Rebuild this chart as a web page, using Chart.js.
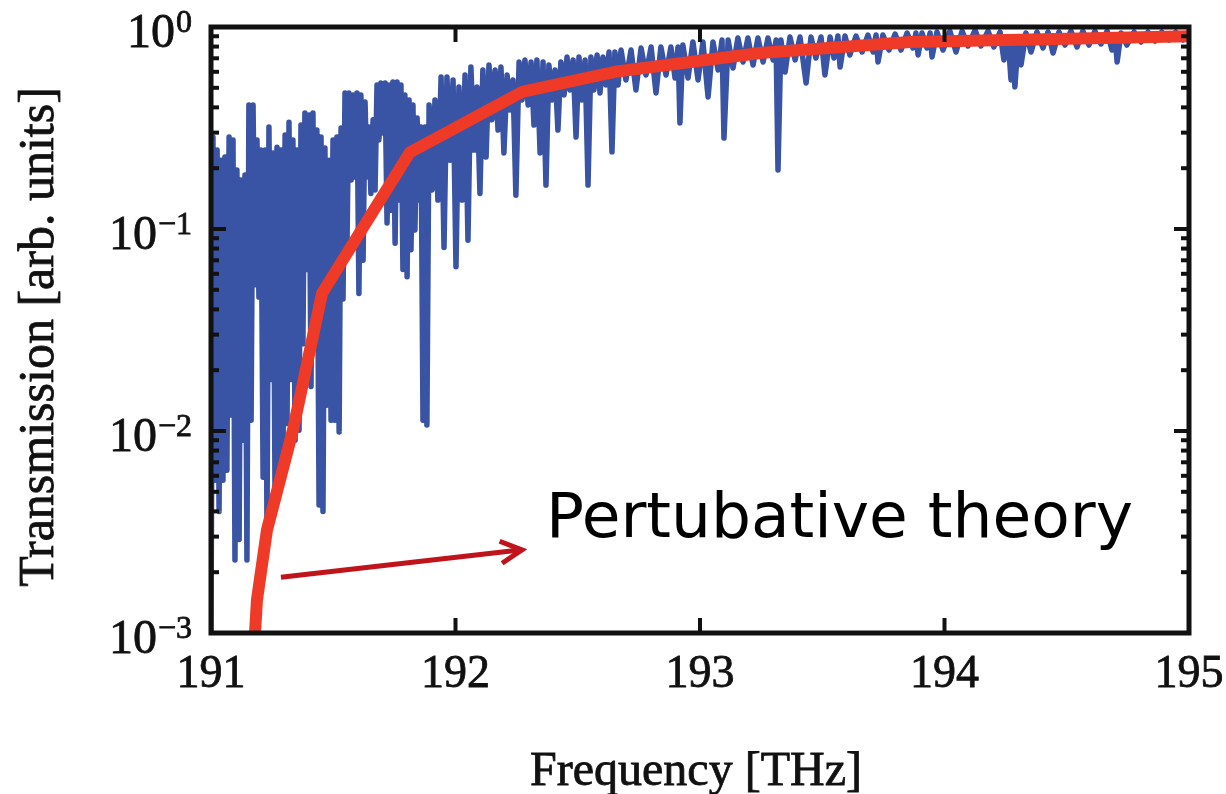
<!DOCTYPE html>
<html>
<head>
<meta charset="utf-8">
<script src="https://cdn.jsdelivr.net/npm/chart.js@4.4.1/dist/chart.umd.min.js"></script>
<style>
  html, body { margin: 0; padding: 0; background: #fff; }
  #wrap { width: 1226px; height: 794px; position: relative; }
</style>
</head>
<body>
<div id="wrap"><canvas id="chart"></canvas></div>
<script>
// ── values ──────────────────────────────────────────────────────────────────
const xTickVals = [191, 192, 193, 194, 195];
const yDecades = [1, 0.1, 0.01, 0.001];
const yExpLabels = ["0", "\u22121", "\u22122", "\u22123"];
const xTitle = "Frequency [THz]";
const yTitle = "Transmission [arb. units]";

// perturbative theory (red)
const theoryFreq = [191.180, 191.188, 191.229, 191.335, 191.454, 191.814, 192.272, 192.652, 193.245, 193.859, 195.000];
const theoryT    = [0.001, 0.00146, 0.00324, 0.0101, 0.048, 0.24, 0.477, 0.60, 0.743, 0.843, 0.90];

// measured transmission spectrum (blue), traced peak / dip by peak / dip
const specFreq = [
  191.000, 191.008, 191.016, 191.025, 191.033, 191.041, 191.049, 191.057, 191.065, 191.074,
  191.082, 191.090, 191.098, 191.106, 191.115, 191.123, 191.131, 191.139, 191.147, 191.155,
  191.164, 191.172, 191.180, 191.188, 191.196, 191.204, 191.213, 191.221, 191.229, 191.237,
  191.245, 191.254, 191.262, 191.270, 191.278, 191.286, 191.294, 191.303, 191.311, 191.319,
  191.327, 191.335, 191.344, 191.352, 191.360, 191.368, 191.376, 191.384, 191.393, 191.401,
  191.409, 191.417, 191.425, 191.433, 191.442, 191.450, 191.458, 191.466, 191.474, 191.483,
  191.491, 191.499, 191.507, 191.515, 191.524, 191.532, 191.540, 191.548, 191.556, 191.564,
  191.573, 191.581, 191.589, 191.597, 191.605, 191.613, 191.622, 191.630, 191.638, 191.646,
  191.654, 191.663, 191.671, 191.679, 191.687, 191.695, 191.703, 191.712, 191.720, 191.728,
  191.736, 191.744, 191.753, 191.761, 191.769, 191.777, 191.785, 191.793, 191.802, 191.810,
  191.818, 191.826, 191.834, 191.843, 191.851, 191.859, 191.867, 191.875, 191.883, 191.892,
  191.904, 191.916, 191.928, 191.941, 191.953, 191.965, 191.978, 191.990, 192.002, 192.014,
  192.027, 192.039, 192.051, 192.063, 192.076, 192.088, 192.100, 192.112, 192.125, 192.137,
  192.149, 192.162, 192.174, 192.186, 192.198, 192.211, 192.223, 192.235, 192.247, 192.260,
  192.272, 192.284, 192.297, 192.309, 192.321, 192.333, 192.346, 192.358, 192.370, 192.382,
  192.395, 192.407, 192.419, 192.431, 192.444, 192.456, 192.468, 192.481, 192.493, 192.505,
  192.517, 192.530, 192.542, 192.554, 192.566, 192.579, 192.591, 192.603, 192.615, 192.628,
  192.640, 192.652, 192.665, 192.677, 192.697, 192.718, 192.738, 192.759, 192.779, 192.800,
  192.820, 192.840, 192.861, 192.881, 192.898, 192.910, 192.918, 192.930, 192.951, 192.971,
  192.992, 193.012, 193.033, 193.053, 193.074, 193.090, 193.098, 193.115, 193.135, 193.155,
  193.176, 193.196, 193.217, 193.237, 193.258, 193.278, 193.299, 193.311, 193.319, 193.331,
  193.348, 193.368, 193.389, 193.409, 193.434, 193.454, 193.474, 193.495, 193.511, 193.532,
  193.548, 193.564, 193.573, 193.593, 193.613, 193.638, 193.663, 193.687, 193.708, 193.720,
  193.728, 193.748, 193.773, 193.798, 193.822, 193.847, 193.871, 193.883, 193.892, 193.908,
  193.928, 193.941, 193.949, 193.969, 193.994, 194.022, 194.047, 194.072, 194.096, 194.125,
  194.149, 194.178, 194.202, 194.227, 194.243, 194.260, 194.272, 194.280, 194.288, 194.301,
  194.313, 194.333, 194.354, 194.378, 194.403, 194.423, 194.444, 194.468, 194.493, 194.517,
  194.542, 194.566, 194.591, 194.615, 194.640, 194.665, 194.685, 194.697, 194.706, 194.722,
  194.746, 194.775, 194.804, 194.832, 194.861, 194.889, 194.918, 194.946, 194.975, 195.000
];
const specT = [
  0.001, 0.285, 0.0057, 0.246, 0.0040, 0.219, 0.0057, 0.227, 0.0064, 0.285,
  0.0120, 0.276, 0.0023, 0.196, 0.0029, 0.175, 0.0090, 0.185, 0.0023, 0.411,
  0.0113, 0.411, 0.053, 0.276, 0.046, 0.246, 0.0059, 0.246, 0.0032, 0.32,
  0.018, 0.238, 0.0045, 0.254, 0.0064, 0.246, 0.0059, 0.292, 0.0109, 0.338,
  0.018, 0.276, 0.0090, 0.246, 0.0101, 0.327, 0.027, 0.375, 0.063, 0.367,
  0.0166, 0.375, 0.0266, 0.309, 0.0043, 0.285, 0.0040, 0.252, 0.0134, 0.219,
  0.0113, 0.276, 0.0113, 0.285, 0.0099, 0.316, 0.045, 0.471, 0.079, 0.471,
  0.175, 0.461, 0.181, 0.471, 0.048, 0.461, 0.070, 0.425, 0.181, 0.32,
  0.150, 0.347, 0.156, 0.516, 0.276, 0.528, 0.299, 0.528, 0.107, 0.516,
  0.124, 0.534, 0.085, 0.534, 0.139, 0.516, 0.063, 0.461, 0.058, 0.435,
  0.079, 0.411, 0.099, 0.354, 0.139, 0.32, 0.0113, 0.32, 0.0107, 0.411,
  0.156, 0.435, 0.139, 0.566, 0.081, 0.566, 0.219, 0.547, 0.065, 0.505,
  0.139, 0.579, 0.088, 0.634, 0.246, 0.505, 0.150, 0.613, 0.227, 0.649,
  0.347, 0.613, 0.309, 0.634, 0.238, 0.579, 0.388, 0.547, 0.147, 0.671,
  0.435, 0.687, 0.411, 0.671, 0.327, 0.687, 0.238, 0.671, 0.165, 0.649,
  0.435, 0.613, 0.309, 0.671, 0.461, 0.710, 0.488, 0.687, 0.285, 0.710,
  0.435, 0.687, 0.165, 0.710, 0.488, 0.727, 0.471, 0.710, 0.516, 0.752,
  0.241, 0.752, 0.516, 0.769, 0.547, 0.769, 0.488, 0.787, 0.579, 0.796,
  0.471, 0.796, 0.579, 0.796, 0.559, 0.796, 0.335, 0.814, 0.559, 0.843,
  0.547, 0.843, 0.45, 0.843, 0.613, 0.862, 0.282, 0.862, 0.627, 0.882,
  0.671, 0.882, 0.649, 0.882, 0.671, 0.882, 0.687, 0.862, 0.196, 0.862,
  0.598, 0.892, 0.687, 0.892, 0.528, 0.892, 0.702, 0.892, 0.579, 0.892,
  0.702, 0.902, 0.634, 0.902, 0.727, 0.902, 0.752, 0.913, 0.752, 0.913,
  0.671, 0.913, 0.769, 0.923, 0.769, 0.934, 0.787, 0.934, 0.727, 0.934,
  0.787, 0.934, 0.710, 0.945, 0.769, 0.955, 0.752, 0.955, 0.805, 0.966,
  0.805, 0.955, 0.796, 0.945, 0.687, 0.882, 0.547, 0.814, 0.505, 0.862,
  0.649, 0.934, 0.752, 0.945, 0.787, 0.945, 0.743, 0.945, 0.814, 0.955,
  0.796, 0.955, 0.814, 0.955, 0.824, 0.955, 0.769, 0.913, 0.671, 0.934,
  0.814, 0.945, 0.843, 0.945, 0.852, 0.945, 0.862, 0.945, 0.862, 0.934
];

// annotation
const noteText  = "Pertubative theory";
const arrowFrom = [191.286, 0.00189];
const arrowTo   = [192.272, 0.00258];
const notePos   = [192.370, 0.00299];

// ── frame, inward ticks, labels and annotation ──────────────────────────────
const decor = {
  id: "decor",
  afterDatasetsDraw(chart) {
    const { ctx, chartArea: a, scales: { x, y } } = chart;
    ctx.save();
    ctx.strokeStyle = "#111";
    ctx.lineCap = "butt";
    ctx.lineWidth = 4;
    const seg = (x1, y1, x2, y2) => { ctx.beginPath(); ctx.moveTo(x1, y1); ctx.lineTo(x2, y2); ctx.stroke(); };

    for (const v of xTickVals.slice(1, -1)) {
      const px = x.getPixelForValue(v);
      seg(px, a.bottom, px, a.bottom - 15);
      seg(px, a.top, px, a.top + 15);
    }
    for (const d of yDecades.slice(1, -1)) {
      const py = y.getPixelForValue(d);
      seg(a.left, py, a.left + 15, py);
      seg(a.right, py, a.right - 15, py);
    }
    for (const d of yDecades.slice(1)) {
      for (let k = 2; k <= 9; k++) {
        const py = y.getPixelForValue(k * d);
        seg(a.left, py, a.left + 8, py);
        seg(a.right, py, a.right - 8, py);
      }
    }
    ctx.lineWidth = 5;
    ctx.strokeRect(a.left, a.top, a.right - a.left, a.bottom - a.top);

    // text, slightly heavier than plain Times
    const txt = (s, tx, ty) => { ctx.fillText(s, tx, ty); ctx.strokeText(s, tx, ty); };
    ctx.fillStyle = "#111";
    ctx.lineWidth = 0.8;
    ctx.textBaseline = "alphabetic";
    ctx.font = '46px "Liberation Serif"';
    ctx.textAlign = "center";
    for (const v of xTickVals) txt(String(v), x.getPixelForValue(v), 687);

    ctx.textAlign = "right";
    yDecades.forEach((d, i) => {
      const py = y.getPixelForValue(d);
      ctx.font = '32px "Liberation Serif"';
      const w = ctx.measureText(yExpLabels[i]).width;
      txt(yExpLabels[i], 192, py + 5);
      ctx.font = '48px "Liberation Serif"';
      txt("10", 192 - w - 1, py + 20);
    });

    // axis titles
    ctx.textAlign = "center";
    ctx.font = '48px "Liberation Serif"';
    txt(xTitle, 696, 785);
    ctx.save();
    ctx.translate(53, 337);
    ctx.rotate(-Math.PI / 2);
    ctx.font = '50px "Liberation Serif"';
    txt(yTitle, 0, 0);
    ctx.restore();

    // arrow
    const x0 = x.getPixelForValue(arrowFrom[0]), y0 = y.getPixelForValue(arrowFrom[1]);
    const x1 = x.getPixelForValue(arrowTo[0]),   y1 = y.getPixelForValue(arrowTo[1]);
    const ang = Math.atan2(y1 - y0, x1 - x0);
    ctx.strokeStyle = "#c0141c";
    ctx.lineWidth = 5;
    seg(x0, y0, x1, y1);
    ctx.beginPath();
    ctx.moveTo(x1 - 24 * Math.cos(ang - 0.48), y1 - 24 * Math.sin(ang - 0.48));
    ctx.lineTo(x1, y1);
    ctx.lineTo(x1 - 24 * Math.cos(ang + 0.48), y1 - 24 * Math.sin(ang + 0.48));
    ctx.stroke();

    ctx.fillStyle = "#000";
    ctx.textAlign = "left";
    ctx.font = '63px "DejaVu Sans"';
    ctx.fillText(noteText, x.getPixelForValue(notePos[0]), y.getPixelForValue(notePos[1]));
    ctx.restore();
  }
};

new Chart(document.getElementById("chart"), {
  type: "line",
  data: {
    datasets: [
      {
        label: "Perturbative theory",
        data: theoryFreq.map((f, i) => ({ x: f, y: theoryT[i] })),
        borderColor: "#ee3a26", borderWidth: 12, borderJoinStyle: "round",
        pointRadius: 0, tension: 0, clip: 0, order: 0,
      },
      {
        label: "Transmission",
        data: specFreq.map((f, i) => ({ x: f, y: specT[i] })),
        borderColor: "#3953a5", borderWidth: 5.5, borderJoinStyle: "round",
        pointRadius: 0, tension: 0, clip: 0, order: 1,
      },
    ],
  },
  options: {
    responsive: true, maintainAspectRatio: false, animation: false,
    layout: { padding: { left: 211, top: 27, right: 37, bottom: 161 } },
    plugins: { legend: { display: false }, tooltip: { enabled: false } },
    scales: {
      x: { type: "linear", min: 191, max: 195, display: false },
      y: { type: "logarithmic", min: 0.001, max: 1, display: false },
    },
  },
  plugins: [decor],
});
</script>
</body>
</html>
